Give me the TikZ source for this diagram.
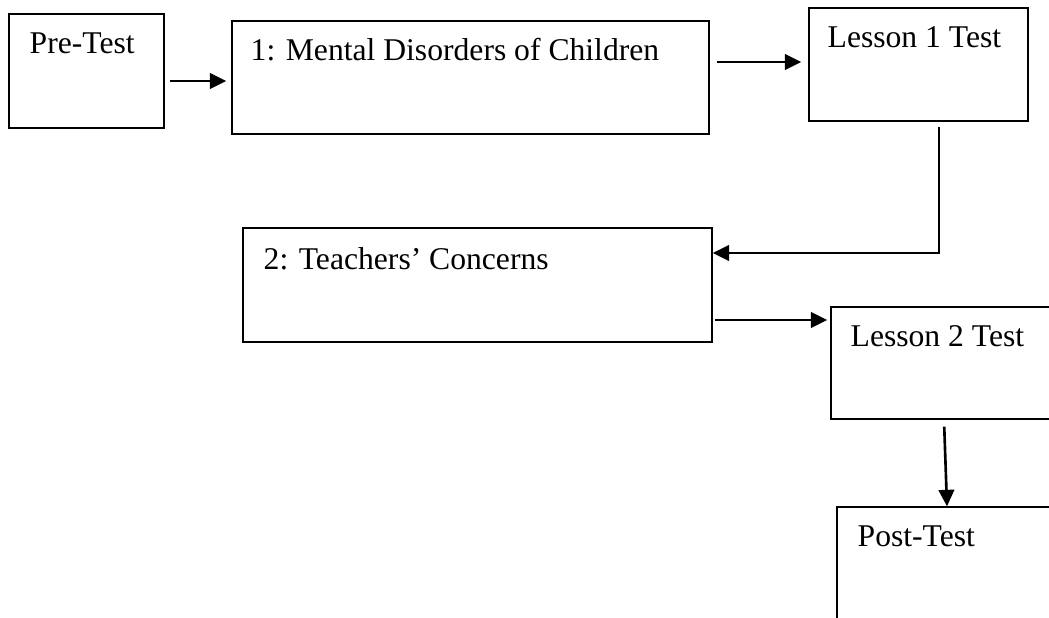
\documentclass[tikz,border=0pt]{standalone}
\usepackage{fontspec}
\setmainfont{Liberation Serif}
\usetikzlibrary{arrows.meta}

\tikzset{
	box/.style={draw, line width=0.75pt, inner sep=0pt},
	caption/.style={anchor=base west, inner sep=0pt, font=\fontsize{18}{22}\selectfont},
	flow/.style={line width=1.5pt, -{Triangle[length=0.33cm, width=0.31cm]}}
}

\begin{document}
\begin{tikzpicture}
			\useasboundingbox (0, 0) rectangle (20.98, -12.36);
			\clip (0, 0) rectangle (20.98, -12.36);

			\node [box, minimum width=3.10cm, minimum height=2.28cm] (pre) at (1.73, -1.42) {};
			\node [caption] (pretxt) at ([xshift=0.42cm, yshift=-0.80cm]pre.north west) {Pre-Test};

			\node [box, minimum width=9.54cm, minimum height=2.26cm] (les1) at (9.41, -1.55) {};
			\node [caption] (les1txt) at ([xshift=0.38cm, yshift=-0.80cm]les1.north west) {1: Mental Disorders of Children};

			\node [box, minimum width=4.38cm, minimum height=2.26cm] (test1) at (18.37, -1.29) {};
			\node [caption] (test1txt) at ([xshift=0.38cm, yshift=-0.80cm]test1.north west) {Lesson 1 Test};

			\node [box, minimum width=9.38cm, minimum height=2.28cm] (les2) at (9.55, -5.70) {};
			\node [caption] (les2txt) at ([xshift=0.42cm, yshift=-0.84cm]les2.north west) {2: Teachers’ Concerns};

			\node [box, minimum width=4.58cm, minimum height=2.24cm] (test2) at (18.91, -7.26) {};
			\node [caption] (test2txt) at ([xshift=0.40cm, yshift=-0.80cm]test2.north west) {Lesson 2 Test};

			\node [box, minimum width=4.46cm, minimum height=2.66cm] (post) at (18.97, -11.47) {};
			\node [caption] (posttxt) at ([xshift=0.42cm, yshift=-0.80cm]post.north west) {Post-Test};

			% connectors
			\draw [flow, shorten <=0.1cm, shorten >=0.1cm] ([yshift=-0.2cm]pre.east) -- ([yshift=-0.2cm]pre.east -| les1.west);
			\draw [flow, shorten <=0.14cm, shorten >=0.14cm] ([yshift=0.31cm]les1.east) -- ([yshift=0.31cm]les1.east -| test1.west);
			\draw [flow, shorten <=0.1cm] ([xshift=0.41cm]test1.south) |- ([yshift=0.64cm]les2.east);
			\draw [flow, shorten <=0.04cm, shorten >=0.06cm] ([yshift=-0.70cm]les2.east) -- ([yshift=-0.70cm]les2.east -| test2.west);
			\draw [flow, shorten <=0.14cm] ([xshift=-0.03cm]test2.south) -- ([xshift=-0.03cm]post.north);
		\end{tikzpicture}
\end{document}
